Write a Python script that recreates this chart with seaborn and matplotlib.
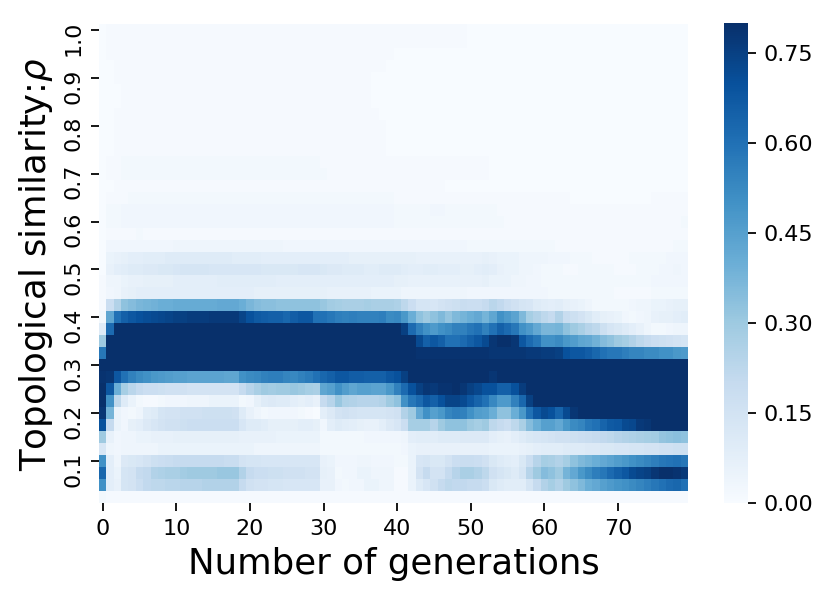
import numpy as np
import pandas as pd
import matplotlib
matplotlib.use("Agg")
import matplotlib.pyplot as plt
from matplotlib.transforms import ScaledTranslation
import seaborn as sns

# Share of runs in each similarity bin per generation, in hundredths
rho_1000 = [0,1,1,1,1,1,1,1,1,1, 1,1,1,1,1,1,1,1,1,1, 1,1,1,1,1,1,1,1,1,1, 1,1,1,1,1,1,1,1,1,1, 1,1,1,1,1,1,1,1,1,1, 0,0,0,0,0,0,0,0,0,0, 0,0,0,0,0,0,0,0,0,0, 0,0,0,0,0,0,0,0,0,0]
rho_0975 = [0,1,1,1,1,1,1,1,1,1, 1,1,1,1,1,1,1,1,1,1, 1,1,1,1,1,1,1,1,1,1, 1,1,1,1,1,1,1,1,1,1, 1,1,1,1,1,1,1,1,1,1, 0,0,0,0,0,0,0,0,0,0, 0,0,0,0,0,0,0,0,0,0, 0,0,0,0,0,0,0,0,0,0]
rho_0950 = [0,1,1,1,1,1,1,1,1,1, 1,1,1,1,1,1,1,1,1,1, 1,1,1,1,1,1,1,1,1,1, 1,1,1,1,1,1,1,1,1,1, 0,0,0,0,0,0,0,0,0,0, 0,0,0,0,0,0,0,0,0,0, 0,0,0,0,0,0,0,0,0,0, 0,0,0,0,0,0,0,0,0,0]
rho_0925 = [0,0,1,1,1,1,1,1,1,1, 1,1,1,1,1,1,1,1,1,1, 1,1,1,1,1,1,1,1,1,1, 1,1,1,1,1,1,1,1,1,0, 0,0,0,0,0,0,0,0,0,0, 0,0,0,0,0,0,0,0,0,0, 0,0,0,0,0,0,0,0,0,0, 0,0,0,0,0,0,0,0,0,0]
rho_0900 = [0,0,1,1,1,1,1,1,1,1, 1,1,1,1,1,1,1,1,1,1, 1,1,1,1,1,1,1,1,1,1, 1,1,1,1,1,1,1,0,0,0, 0,0,0,0,0,0,0,0,0,0, 0,0,0,0,0,0,0,0,0,0, 0,0,0,0,0,0,0,0,0,0, 0,0,0,0,0,0,0,0,0,0]
rho_0875 = [0,0,0,1,1,1,1,1,1,1, 1,1,1,1,1,1,1,1,1,1, 1,1,1,1,1,1,1,1,1,1, 1,1,1,1,1,1,1,0,0,0, 0,0,0,0,0,0,0,0,0,0, 0,0,0,0,0,0,0,0,0,0, 0,0,0,0,0,0,0,0,0,0, 0,0,0,0,0,0,0,0,0,0]
rho_0850 = [0,0,0,1,1,1,1,1,1,1, 1,1,1,1,1,1,1,1,1,1, 1,1,1,1,1,1,1,1,1,1, 1,1,1,1,1,1,1,0,0,0, 0,0,0,0,0,0,0,0,0,0, 0,0,0,0,0,0,0,0,0,0, 0,0,0,0,0,0,0,0,0,0, 0,0,0,0,0,0,0,0,0,0]
rho_0825 = [0,0,1,1,1,1,1,1,1,1, 1,1,1,1,1,1,1,1,1,1, 1,1,1,1,1,1,1,1,1,1, 1,1,1,1,1,1,1,1,0,0, 0,0,0,0,0,0,0,0,0,0, 0,0,0,0,0,0,0,0,0,0, 0,0,0,0,0,0,0,0,0,0, 0,0,0,0,0,0,0,0,0,0]
rho_0800 = [0,0,1,1,1,1,1,1,1,1, 1,1,1,1,1,1,1,1,1,1, 1,1,1,1,1,1,1,1,1,1, 1,1,1,1,1,1,1,1,1,0, 0,0,0,0,0,0,0,0,0,0, 0,0,0,0,0,0,0,0,0,0, 0,0,0,0,0,0,0,0,0,0, 0,0,0,0,0,0,0,0,0,0]
rho_0775 = [0,0,1,1,1,1,1,1,1,1, 1,1,1,1,1,1,1,1,1,1, 1,1,1,1,1,1,1,1,1,1, 1,1,1,1,1,1,1,1,1,0, 0,0,0,0,0,0,0,0,0,0, 0,0,0,0,0,0,0,0,0,0, 0,0,0,0,0,0,0,0,0,0, 0,0,0,0,0,0,0,0,0,0]
rho_0750 = [0,0,1,1,1,1,1,1,1,1, 1,1,1,1,1,1,1,1,1,1, 1,1,1,1,1,1,1,1,1,1, 1,1,1,1,1,1,1,1,1,0, 0,0,0,0,0,0,0,0,0,0, 0,0,0,0,0,0,0,0,0,0, 0,0,0,0,0,0,0,0,0,0, 0,0,0,0,0,0,0,0,0,0]
rho_0725 = [0,1,1,2,2,2,2,2,2,2, 2,2,2,2,2,2,2,2,2,2, 2,2,2,2,2,2,2,2,2,2, 1,1,1,1,1,1,1,1,1,1, 1,1,1,1,1,1,1,1,1,1, 1,1,1,0,0,0,0,0,0,0, 0,0,0,0,0,0,0,0,0,0, 0,0,0,0,0,0,0,0,0,0]
rho_0700 = [0,1,1,2,2,2,2,2,2,2, 2,2,2,2,2,2,2,2,2,2, 2,2,2,2,2,2,2,2,2,2, 2,1,1,1,1,1,1,1,1,1, 1,1,1,1,1,1,1,1,1,1, 1,1,1,0,0,0,0,0,0,0, 0,0,0,0,0,0,0,0,0,0, 0,0,0,0,0,0,0,0,0,0]
rho_0675 = [0,0,1,1,1,1,1,1,1,1, 1,1,1,1,1,1,1,1,1,1, 1,1,1,1,1,1,1,1,1,1, 1,1,1,1,1,1,1,1,1,1, 1,1,1,1,1,1,1,0,0,0, 0,0,0,0,0,0,0,0,0,0, 0,0,0,0,0,0,0,0,0,0, 0,0,0,0,0,0,0,0,0,0]
rho_0650 = [0,1,1,1,2,2,2,2,2,2, 2,2,2,2,2,2,2,2,2,2, 2,2,2,2,2,2,2,2,2,2, 2,2,2,2,2,2,2,2,2,2, 1,1,1,1,1,1,1,1,1,1, 1,1,1,1,1,1,1,1,1,1, 1,1,1,1,0,0,0,0,0,0, 0,0,0,0,0,1,1,1,1,1]
rho_0625 = [0,2,2,3,3,3,3,3,3,3, 3,3,3,3,3,3,3,3,3,3, 3,3,3,3,3,3,3,3,3,3, 3,3,3,3,3,3,3,3,3,3, 2,2,2,2,2,3,3,2,2,2, 2,2,2,2,1,1,1,1,1,1, 1,1,1,1,1,1,1,1,1,1, 1,1,1,1,1,1,1,1,1,1]
rho_0600 = [0,2,2,3,3,3,3,3,3,3, 3,3,3,3,3,3,3,3,3,3, 3,3,3,3,3,3,3,3,3,3, 3,3,3,3,3,3,3,3,3,3, 2,2,2,2,2,2,2,2,2,2, 2,2,2,2,2,1,1,1,1,1, 1,1,1,1,1,1,1,1,1,1, 1,1,1,1,1,1,1,1,1,2]
rho_0575 = [0,1,1,1,1,2,1,1,1,1, 1,1,1,1,1,1,1,1,1,1, 1,1,1,1,1,1,1,1,1,1, 1,1,1,1,1,1,1,1,1,1, 1,1,1,1,1,1,1,1,1,1, 1,1,1,1,1,1,1,1,1,1, 1,1,1,1,1,1,1,1,1,1, 1,1,1,1,1,1,1,1,1,1]
rho_0550 = [0,3,3,3,3,3,3,3,3,3, 4,4,4,4,4,4,4,4,4,4, 4,4,4,4,4,3,3,3,3,3, 3,3,3,3,3,3,3,3,3,3, 3,3,3,3,3,3,3,3,3,3, 2,2,2,2,2,2,2,2,2,2, 2,2,1,1,1,1,1,1,1,1, 1,1,1,1,1,1,1,1,2,2]
rho_0525 = [0,5,6,7,8,8,9,9,9,10, 10,10,10,10,10,10,10,10,9,9, 9,9,8,8,8,8,8,8,8,8, 8,8,8,8,7,7,7,7,7,7, 7,7,7,6,6,6,6,6,6,6, 6,6,7,6,5,5,5,4,4,4, 4,3,3,3,2,2,2,1,1,1, 1,1,2,2,2,2,2,3,3,3]
rho_0500 = [0,6,8,9,10,10,11,11,12,12, 13,14,14,14,14,13,13,13,13,13, 13,13,12,12,12,12,12,13,13,13, 12,11,11,10,10,10,9,9,10,10, 10,9,8,8,9,9,8,8,8,7, 7,8,9,8,6,5,5,4,4,3, 2,2,2,1,1,2,2,2,2,2, 1,1,1,2,2,2,3,3,4,3]
rho_0475 = [1,4,4,5,6,6,7,7,7,7, 8,8,8,8,8,8,9,9,9,9, 9,9,9,9,8,8,8,8,8,8, 8,8,8,8,8,8,8,8,8,8, 7,7,6,6,6,6,6,6,6,6, 6,6,7,5,5,5,4,4,3,3, 2,2,2,2,2,2,2,2,2,2, 2,2,2,2,2,3,3,3,3,3]
rho_0450 = [1,3,4,6,7,8,8,8,8,8, 8,8,8,8,8,8,8,8,8,8, 8,7,7,7,7,7,7,7,7,7, 7,6,6,6,6,6,6,5,5,5, 5,4,4,4,4,4,4,4,4,4, 3,3,3,3,3,3,3,3,3,3, 3,2,2,2,2,2,2,2,2,2, 1,1,1,1,1,2,2,2,2,2]
rho_0425 = [1,18,25,33,35,37,38,39,40,40, 41,41,41,41,41,41,42,42,42,40, 37,35,34,34,33,33,33,33,33,33, 31,29,28,27,27,27,28,27,27,27, 26,22,18,14,14,13,15,16,17,19, 18,18,20,23,21,18,16,14,13,10, 9,8,9,7,6,5,4,2,2,2, 2,2,3,4,4,5,5,6,7,7]
rho_0400 = [2,43,60,65,68,70,71,72,73,74, 75,75,76,76,76,77,77,77,77,74, 70,67,66,65,65,63,66,68,68,60, 60,58,56,55,56,55,55,55,56,52, 53,48,40,33,30,33,36,32,36,38, 40,42,38,43,50,47,44,36,28,25, 22,20,25,19,17,15,12,9,7,6, 5,3,2,3,4,6,7,7,8,9]
rho_0375 = [10,62,80,80,80,80,80,80,80,80, 80,80,80,80,80,80,80,80,80,80, 80,80,80,80,80,80,80,80,80,80, 80,80,80,80,80,80,80,80,80,80, 80,75,62,55,50,47,50,52,55,55, 58,60,55,60,65,62,58,50,47,42, 37,37,38,33,30,27,24,22,17,14, 12,10,8,6,4,2,2,3,4,4]
rho_0350 = [30,80,80,80,80,80,80,80,80,80, 80,80,80,80,80,80,80,80,80,80, 80,80,80,80,80,80,80,80,80,80, 80,80,80,80,80,80,80,80,80,80, 80,80,80,72,65,68,65,60,60,62, 65,68,72,78,80,80,78,68,62,58, 50,50,52,48,46,43,42,39,35,33, 30,28,25,22,20,18,17,16,15,14]
rho_0325 = [58,80,80,80,80,80,80,80,80,80, 80,80,80,80,80,80,80,80,80,80, 80,80,80,80,80,80,80,80,80,80, 80,80,80,80,80,80,80,80,80,80, 80,80,80,79,79,79,79,79,79,79, 79,79,79,78,78,78,78,78,77,77, 76,76,75,70,68,68,66,63,60,58, 58,56,54,54,52,52,50,50,48,47]
rho_0300 = [80,80,80,80,80,80,80,80,80,80, 80,80,80,80,80,80,80,80,80,80, 80,80,80,80,80,80,80,80,80,80, 80,80,80,80,80,80,80,80,80,80, 80,80,80,80,80,80,80,80,80,80, 80,80,80,80,80,80,80,80,80,80, 80,80,80,80,80,80,80,80,80,80, 80,80,80,80,80,80,80,80,80,80]
rho_0275 = [79,78,68,60,55,52,50,48,47,46, 45,45,44,44,44,44,44,43,43,50, 52,53,55,56,56,54,53,55,57,60, 63,65,68,68,66,66,65,65,65,68, 70,75,80,80,80,80,80,80,80,80, 80,80,80,78,80,80,80,80,80,80, 80,80,80,80,80,80,80,80,80,80, 80,80,80,80,80,80,80,80,80,80]
rho_0250 = [80,68,40,28,23,20,18,18,17,16, 16,16,15,15,15,15,15,15,15,20, 24,27,30,29,30,30,31,30,28,27, 43,45,50,46,43,45,45,44,44,48, 55,62,70,75,78,77,79,79,80,78, 75,73,70,70,65,65,70,76,80,80, 80,80,80,80,80,80,80,80,80,80, 80,80,80,80,80,80,80,80,80,80]
rho_0225 = [80,50,22,10,5,2,1,1,2,3, 3,3,4,4,4,5,5,5,5,2, 3,7,10,11,10,10,8,7,8,6, 20,24,31,26,25,24,24,24,25,30, 33,50,58,62,68,65,70,74,74,72, 68,64,60,53,47,47,55,63,75,80, 80,80,80,80,80,80,80,80,80,80, 80,80,80,80,80,80,80,80,80,80]
rho_0200 = [78,38,5,3,2,4,9,10,14,15, 15,16,16,16,17,17,17,17,16,10, 6,4,2,3,3,3,3,2,1,0, 8,11,15,16,15,14,14,14,14,15, 16,25,30,42,50,45,48,54,56,55, 50,46,45,40,33,33,40,48,60,68, 72,70,64,72,78,80,80,80,80,80, 80,80,80,80,80,80,80,80,80,80]
rho_0175 = [70,20,5,3,7,8,11,13,15,16, 16,17,18,18,18,18,18,18,18,13, 10,10,9,7,7,7,7,8,8,7, 3,8,10,9,8,7,6,6,8,11, 13,18,28,28,28,24,30,33,33,33, 30,28,30,22,20,18,22,27,35,40, 45,45,42,48,52,54,58,60,64,67, 68,72,73,77,78,80,80,80,80,80]
rho_0150 = [30,6,3,4,4,5,5,6,6,6, 7,7,7,7,7,7,7,7,7,6, 6,6,6,6,5,5,5,5,5,5, 2,2,2,2,2,2,3,3,3,3, 3,4,8,9,9,9,10,10,10,11, 11,11,11,8,7,6,8,10,12,13, 14,15,16,16,17,18,19,20,21,22, 24,25,26,27,28,29,32,33,34,33]
rho_0125 = [13,4,3,4,4,4,4,4,5,5, 5,5,5,5,5,5,5,5,5,5, 5,4,4,4,4,4,4,4,4,4, 2,2,2,2,2,2,2,2,2,2, 2,3,5,6,6,6,6,6,6,6, 6,6,6,5,5,5,5,6,7,8, 9,9,9,10,10,10,11,11,12,12, 13,13,14,14,15,15,16,16,17,17]
rho_0100 = [50,8,4,11,12,13,15,17,18,19, 20,20,20,20,20,20,20,19,19,15, 14,14,13,13,13,13,13,13,13,13, 6,5,3,3,3,4,4,3,3,3, 2,2,5,13,14,12,12,15,18,19, 19,18,16,12,10,9,8,12,18,24, 28,27,25,28,33,36,38,40,42,44, 46,48,50,52,54,56,58,59,60,58]
rho_0075 = [63,8,5,14,15,20,21,25,26,27, 27,29,30,30,30,30,31,31,31,25, 20,18,18,17,17,16,16,16,15,15, 7,6,2,3,3,5,5,4,4,4, 1,1,5,15,20,15,15,20,24,27, 27,25,22,16,14,12,10,14,24,30, 35,33,30,38,42,48,52,56,58,62, 65,68,72,74,75,78,80,80,79,77]
rho_0050 = [50,8,6,14,15,18,21,22,22,23, 23,24,24,24,25,25,25,25,25,20, 16,15,15,14,14,13,13,13,13,13, 6,6,3,2,3,3,5,5,4,4, 1,1,5,10,13,16,20,22,21,21, 20,20,18,12,10,9,9,9,14,20, 25,28,25,30,33,36,40,42,45,47, 49,50,52,54,56,58,60,62,63,60]
rho_0025 = [2,1,1,1,1,1,1,1,1,1, 1,1,1,1,1,1,1,1,1,1, 1,1,1,1,1,1,1,1,1,1, 1,1,1,1,1,1,1,1,1,1, 1,1,1,1,1,1,1,1,1,1, 1,1,1,1,1,1,1,1,1,1, 1,1,1,1,1,1,1,1,1,1, 1,1,1,1,1,1,1,1,1,1]

rho_labels = ["1.0", "0.975", "0.95", "0.925", "0.9", "0.875", "0.85", "0.825",
              "0.8", "0.775", "0.75", "0.725", "0.7", "0.675", "0.65", "0.625",
              "0.6", "0.575", "0.55", "0.525", "0.5", "0.475", "0.45", "0.425",
              "0.4", "0.375", "0.35", "0.325", "0.3", "0.275", "0.25", "0.225",
              "0.2", "0.175", "0.15", "0.125", "0.1", "0.075", "0.05", "0.025"]
cbar_ticks = [0.0, 0.15, 0.30, 0.45, 0.60, 0.75]

rows = [rho_1000, rho_0975, rho_0950, rho_0925, rho_0900, rho_0875, rho_0850, rho_0825,
        rho_0800, rho_0775, rho_0750, rho_0725, rho_0700, rho_0675, rho_0650, rho_0625,
        rho_0600, rho_0575, rho_0550, rho_0525, rho_0500, rho_0475, rho_0450, rho_0425,
        rho_0400, rho_0375, rho_0350, rho_0325, rho_0300, rho_0275, rho_0250, rho_0225,
        rho_0200, rho_0175, rho_0150, rho_0125, rho_0100, rho_0075, rho_0050, rho_0025]
df = pd.DataFrame(np.array(rows) / 100, index=rho_labels)

W, H = 830, 598
fig = plt.figure(figsize=(W / 160, H / 160), dpi=160)
ax = fig.add_axes([99 / W, 1 - 503 / H, 589 / W, 479 / H])
cax = fig.add_axes([724 / W, 1 - 503 / H, 24 / W, 480 / H])

sns.heatmap(df, ax=ax, cbar_ax=cax, cmap="Blues", vmin=0, vmax=0.8,
            xticklabels=10, yticklabels=4, cbar_kws={"ticks": cbar_ticks})

ax.tick_params(axis="both", labelsize=10)
plt.setp(ax.get_xticklabels(), rotation=0)
# the rotated y labels sit a little below their ticks
shift = ScaledTranslation(0, -8 / 160, fig.dpi_scale_trans)
for lab in ax.get_yticklabels():
    lab.set_rotation(90)
    lab.set_va("center")
    lab.set_transform(lab.get_transform() + shift)
ax.set_xlabel("Number of generations", fontsize=16)
ax.set_ylabel("Topological similarity:$\\rho$", fontsize=16)
cax.tick_params(labelsize=10)
cax.set_yticklabels(["%.2f" % t for t in cbar_ticks])

fig.savefig("out.png", dpi=160)
